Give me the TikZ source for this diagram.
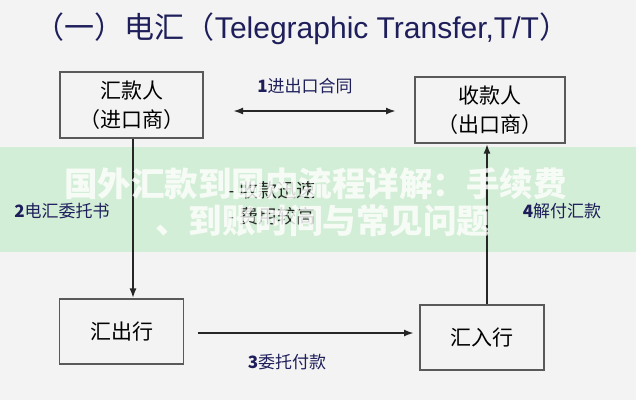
\documentclass[tikz,border=0pt]{standalone}
\usepackage{fontspec}
\setmainfont{Liberation Sans}
\newfontfamily\cjk{Noto Sans CJK SC}
\usetikzlibrary{arrows.meta}
\definecolor{navy}{HTML}{1E1E5A}
\definecolor{bandgreen}{HTML}{D3EED6}
\definecolor{bg}{HTML}{F3F3F3}
\tikzset{
  party/.style={draw=black!65, line width=1.2pt, fill=bg, minimum width=143pt, minimum height=66pt, align=center, font=\cjk\fontsize{21}{29}\selectfont, inner sep=0pt},
  bank/.style={draw=black!65, line width=1.2pt, fill=bg, minimum width=124pt, minimum height=65pt, align=center, font=\cjk\fontsize{21}{29}\selectfont, inner sep=0pt},
  tip/.tip={Latex[length=10pt,width=7pt]},
  flow/.style={line width=2.4pt, draw=black!85, -tip},
  lbl/.style={text=navy, font=\cjk\fontsize{17}{20}\selectfont, inner sep=0pt},
  wm/.style={text=white, opacity=0.8, font=\cjk\bfseries\fontsize{33.5}{36}\selectfont, inner sep=0pt, anchor=west}
}
\begin{document}
\begin{tikzpicture}[x=1pt,y=-1pt]
\fill[bg] (0,0) rectangle (636,400);
\useasboundingbox (0,0) rectangle (636,400);
% green band
\fill[bandgreen] (0,147) rectangle (636,252);
% title
\node[text=navy, inner sep=0pt] (title) at (302,29) {\cjk\fontsize{30}{32}\selectfont （一）电汇（\fontspec{Liberation Sans}\fontsize{30}{32}\selectfont Telegraphic Transfer,T/T\cjk）};
% boxes
\node[party, minimum width=143pt] (payer) at (131.5,105) {汇款人\\（进口商）};
\node[party, minimum width=150pt] (payee) at (490,110) {收款人\\（出口商）};
\node[bank] (rbank) at (121.5,331.5) {汇出行};
\node[bank] (pbank) at (482,337.5) {汇入行};
% arrow 1
\coordinate (a1l) at (233,111);
\coordinate (a1r) at (396,111);
\draw[flow, tip-tip] (a1l) -- (a1r);
\node[lbl] (l1) at (305,86) {\textbf{1}进出口合同};
% arrow 2
\draw[flow] (payer.south -| 133,0) -- (rbank.north -| 133,0);
\node[lbl] (l2) at (62,211) {\textbf{2}电汇委托书};
% arrow 3
\coordinate (a3l) at (198,333);
\coordinate (a3r) at (414,333);
\draw[flow] (a3l) -- (a3r);
\node[lbl] (l3) at (287,362) {\textbf{3}委托付款};
% arrow 4
\draw[flow] (pbank.north -| 487,0) -- (payee.south -| 487,0);
\node[lbl] (l4) at (562,211) {\textbf{4}解付汇款};
% middle text
\node[inner sep=0pt, anchor=west, font=\cjk\fontsize{19}{24}\selectfont, text=black!85] (m1) at (228,190) {- 收款迅速};
\node[inner sep=0pt, anchor=west, font=\cjk\fontsize{19}{24}\selectfont, text=black!85] (m2) at (228,216) {- 费用较高};
% watermark text
\node[wm] (w1) at (64,184) {国外汇款到国内流程详解：手续费};
\node[wm] (w2) at (155,221) {、到账时间与常见问题};
\end{tikzpicture}
\end{document}
